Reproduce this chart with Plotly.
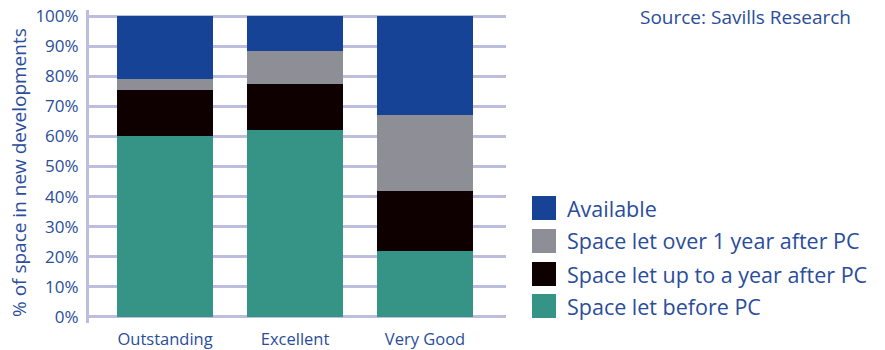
import plotly.graph_objects as go

categories = ["Outstanding", "Excellent", "Very Good"]
series_names = ["Space let before PC", "Space let up to a year after PC",
                "Space let over 1 year after PC", "Available"]
before_pc = [60, 62, 22]
up_to_year = [15.5, 15.5, 20]
over_year = [3.5, 11, 25]
available = [21, 11.5, 33]
series_values = [before_pc, up_to_year, over_year, available]
colors = ["#359486", "#0e0000", "#8e8e96", "#174397"]
y_ticks = list(range(0, 101, 10))
y_tick_labels = [f"{v}%" for v in y_ticks]

FONT = "Open Sans"
TXT = "#2a4d9b"

L, R, T, B = 89, 506, 10, 323
PW, PH = R - L, B - T


def px(x):
    return (x - L) / PW


def py(y):
    return (B - y) / PH


fig = go.Figure()
for name, vals, col in zip(series_names, series_values, colors):
    fig.add_trace(go.Bar(x=categories, y=vals, name=name, marker_color=col,
                         marker_line_width=0, width=0.74, showlegend=False))

fig.update_layout(
    barmode="stack",
    width=885, height=350,
    margin=dict(l=L, r=885 - R, t=T, b=350 - B, autoexpand=False),
    paper_bgcolor="white", plot_bgcolor="white",
    font=dict(family=FONT, color=TXT),
    xaxis=dict(range=[-0.585, 2.623], showgrid=False, zeroline=False,
               showline=False, ticks="", automargin=False,
               tickfont=dict(size=16.5, color=TXT), ticklabelstandoff=4),
    yaxis=dict(range=[-2, 102], tickvals=y_ticks, ticktext=y_tick_labels,
               showgrid=True, gridcolor="#bdbde0", gridwidth=3,
               zeroline=False, showline=True, linecolor="#bdbde0", linewidth=3,
               ticks="", automargin=False,
               tickfont=dict(size=17, color=TXT), ticklabelstandoff=4),
)

# Y axis title
fig.add_annotation(text="% of space in new developments", xref="paper", yref="paper",
                   x=px(19), y=py(173), xanchor="center", yanchor="middle",
                   textangle=-90, showarrow=False, font=dict(size=19, color=TXT))

# Source note
fig.add_annotation(text="Source: Savills Research", xref="paper", yref="paper",
                   x=px(638), y=py(17), xanchor="left", yanchor="middle",
                   showarrow=False, font=dict(size=19, color=TXT))

# Manual legend (top to bottom: Available first)
legend_rows = list(zip(series_names, colors))[::-1]
row_y = [208, 241, 274, 306]
for (name, col), yc in zip(legend_rows, row_y):
    fig.add_shape(type="rect", xref="paper", yref="paper",
                  x0=px(532), x1=px(556), y0=py(yc + 12), y1=py(yc - 12),
                  fillcolor=col, line_width=0)
    fig.add_annotation(text=name, xref="paper", yref="paper",
                       x=px(565), y=py(yc),
                       xanchor="left", yanchor="middle", showarrow=False,
                       font=dict(size=21.5, color=TXT))

fig.write_html("out.html", config={"displayModeBar": False},
               post_script="document.body.style.margin='0px';document.body.style.overflow='hidden';")
